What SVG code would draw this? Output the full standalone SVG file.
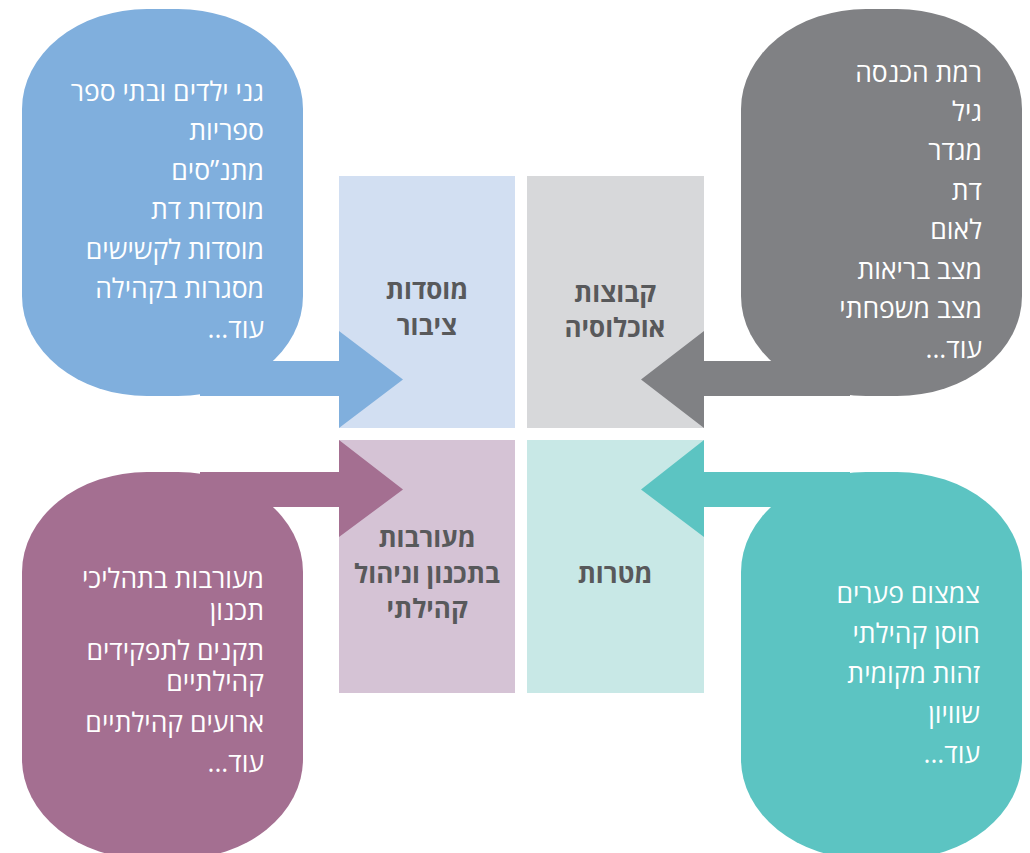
<svg xmlns="http://www.w3.org/2000/svg" width="1030" height="853" viewBox="0 0 1030 853">
<style>
.item{font-family:"Open Sans","Noto Sans Hebrew","DejaVu Sans",sans-serif;font-size:26.5px;fill:#ffffff;direction:rtl;text-anchor:start}
.lbl{font-family:"Open Sans","Noto Sans Hebrew","DejaVu Sans",sans-serif;font-size:26px;font-weight:bold;fill:#58595b;direction:rtl;text-anchor:middle}
</style>
<rect width="1030" height="853" fill="#ffffff"/>
<g id="box-institutions"><rect x="339" y="176" width="176" height="252" fill="#d2dff2"/><text class="lbl" x="427" y="299">מוסדות</text><text class="lbl" x="427" y="335">ציבור</text></g>
<g id="box-population"><rect x="527" y="176" width="177" height="252" fill="#d7d8da"/><text class="lbl" x="615" y="302">קבוצות</text><text class="lbl" x="615" y="337">אוכלוסיה</text></g>
<g id="box-involvement"><rect x="339" y="440" width="176" height="253" fill="#d5c3d5"/><text class="lbl" x="427" y="547">מעורבות</text><text class="lbl" x="427" y="583">בתכנון וניהול</text><text class="lbl" x="427" y="618">קהילתי</text></g>
<g id="box-goals"><rect x="527" y="440" width="177" height="253" fill="#c8e8e6"/><text class="lbl" x="615" y="583">מטרות</text></g>
<g id="bubble-institutions"><rect x="22" y="9" width="281" height="387" rx="125" ry="100" fill="#80afdd"/>
<text class="item" x="264" y="101">גני ילדים ובתי ספר</text>
<text class="item" x="264" y="140">ספריות</text>
<text class="item" x="264" y="180">מתנ”סים</text>
<text class="item" x="264" y="219">מוסדות דת</text>
<text class="item" x="264" y="259">מוסדות לקשישים</text>
<text class="item" x="264" y="298">מסגרות בקהילה</text>
<text class="item" x="264" y="338">עוד...</text></g>
<g id="bubble-population"><rect x="741" y="9" width="281" height="387" rx="125" ry="100" fill="#808184"/>
<text class="item" x="982" y="82">רמת הכנסה</text>
<text class="item" x="982" y="121">גיל</text>
<text class="item" x="982" y="160">מגדר</text>
<text class="item" x="982" y="200">דת</text>
<text class="item" x="982" y="239">לאום</text>
<text class="item" x="982" y="279">מצב בריאות</text>
<text class="item" x="982" y="318">מצב משפחתי</text>
<text class="item" x="982" y="358">עוד...</text></g>
<g id="bubble-involvement"><rect x="22" y="472" width="281" height="387" rx="125" ry="100" fill="#a46f91"/>
<text class="item" x="264" y="588">מעורבות בתהליכי</text>
<text class="item" x="264" y="620">תכנון</text>
<text class="item" x="264" y="660">תקנים לתפקידים</text>
<text class="item" x="264" y="691">קהילתיים</text>
<text class="item" x="264" y="732">ארועים קהילתיים</text>
<text class="item" x="264" y="772">עוד...</text></g>
<g id="bubble-goals"><rect x="741" y="472" width="281" height="387" rx="125" ry="100" fill="#5cc4c2"/>
<text class="item" x="980" y="603">צמצום פערים</text>
<text class="item" x="980" y="643">חוסן קהילתי</text>
<text class="item" x="980" y="683">זהות מקומית</text>
<text class="item" x="980" y="723">שוויון</text>
<text class="item" x="980" y="763">עוד...</text></g>
<g id="connectors">
<path d="M200 361H339V331L403 379.5L339 428V396H200Z" fill="#80afdd"/>
<path d="M850 361H704V331L641 379.5L704 428V396H850Z" fill="#808184"/>
<path d="M200 472H339V440L403 489.5L339 537V507H200Z" fill="#a46f91"/>
<path d="M850 472H704V440L641 489.5L704 537V507H850Z" fill="#5cc4c2"/>
</g>
</svg>
